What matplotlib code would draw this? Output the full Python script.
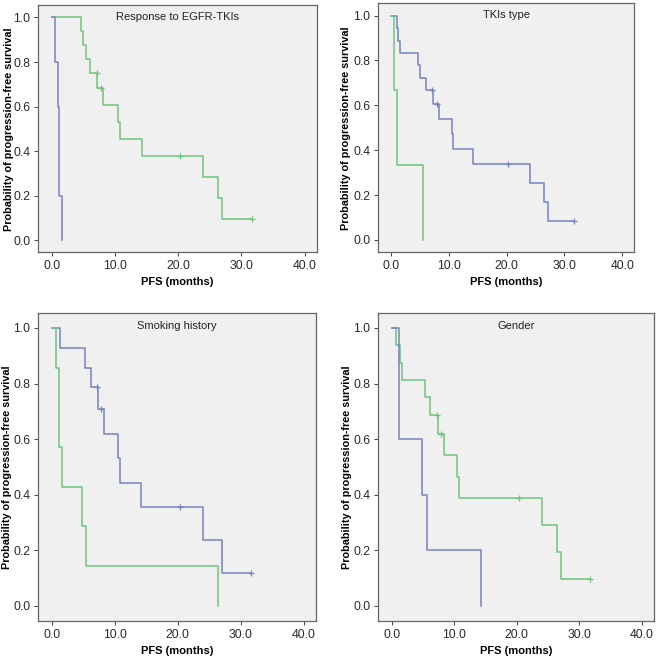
import numpy as np
import matplotlib.pyplot as plt

plt.rcParams['font.family'] = ['Liberation Sans', 'DejaVu Sans']

# Kaplan-Meier curves: drop times and survival after each drop
titles = ['Response to EGFR-TKIs', 'TKIs type', 'Smoking history', 'Gender']

# panel 1 - response to EGFR-TKIs
p1_green_t = [4.65, 4.95, 5.3, 6.05, 7.2, 8.15, 10.5, 10.8, 14.2, 23.9, 26.3, 27.0]
p1_green_s = [0.9375, 0.875, 0.8125, 0.75, 0.682, 0.606, 0.530, 0.455, 0.379, 0.284, 0.189, 0.095]
p1_green_c = [7.05, 7.75, 20.2, 31.6]
p1_green_end = 31.6
p1_blue_t = [0.45, 1.0, 1.05, 1.15, 1.5]
p1_blue_s = [0.8, 0.6, 0.4, 0.2, 0.0]
p1_blue_c = []
p1_blue_end = 1.5

# panel 2 - TKIs type
p2_blue_t = [1.05, 1.3, 1.6, 4.75, 5.1, 6.0, 7.3, 8.4, 10.5, 10.8, 14.2, 24.0, 26.4, 27.1]
p2_blue_s = [0.944, 0.889, 0.833, 0.778, 0.722, 0.667, 0.606, 0.539, 0.471, 0.404, 0.337, 0.253, 0.168, 0.084]
p2_blue_c = [7.1, 7.9, 20.3, 31.7]
p2_blue_end = 31.7
p2_green_t = [0.6, 1.0, 5.55]
p2_green_s = [0.667, 0.333, 0.0]
p2_green_c = []
p2_green_end = 5.55

# panel 3 - smoking history
p3_blue_t = [1.25, 5.2, 6.15, 7.35, 8.3, 10.5, 10.8, 14.2, 24.0, 27.1]
p3_blue_s = [0.929, 0.857, 0.786, 0.707, 0.619, 0.530, 0.442, 0.354, 0.236, 0.118]
p3_blue_c = [7.2, 7.85, 20.3, 31.7]
p3_blue_end = 31.7
p3_green_t = [0.6, 1.1, 1.15, 1.6, 4.75, 5.4, 26.4]
p3_green_s = [0.857, 0.714, 0.571, 0.429, 0.286, 0.143, 0.0]
p3_green_c = []
p3_green_end = 26.4

# panel 4 - gender
p4_green_t = [0.6, 1.25, 1.65, 5.3, 6.2, 7.45, 8.3, 10.5, 10.8, 24.0, 26.4, 27.1]
p4_green_s = [0.9375, 0.875, 0.8125, 0.75, 0.6875, 0.619, 0.541, 0.464, 0.387, 0.29, 0.193, 0.097]
p4_green_c = [7.25, 7.9, 20.3, 31.7]
p4_green_end = 31.7
p4_blue_t = [1.1, 1.2, 4.8, 5.6, 14.3]
p4_blue_s = [0.8, 0.6, 0.4, 0.2, 0.0]
p4_blue_c = []
p4_blue_end = 14.3

green = '#70c47e'
blue = '#7683c2'

panels = [
    [(p1_green_t, p1_green_s, p1_green_c, p1_green_end, green),
     (p1_blue_t, p1_blue_s, p1_blue_c, p1_blue_end, blue)],
    [(p2_blue_t, p2_blue_s, p2_blue_c, p2_blue_end, blue),
     (p2_green_t, p2_green_s, p2_green_c, p2_green_end, green)],
    [(p3_blue_t, p3_blue_s, p3_blue_c, p3_blue_end, blue),
     (p3_green_t, p3_green_s, p3_green_c, p3_green_end, green)],
    [(p4_green_t, p4_green_s, p4_green_c, p4_green_end, green),
     (p4_blue_t, p4_blue_s, p4_blue_c, p4_blue_end, blue)],
]

# axes boxes in figure fractions (left, bottom, width, height)
boxes = [
    [0.058, 0.616, 0.424, 0.376],
    [0.5745, 0.616, 0.389, 0.379],
    [0.058, 0.055, 0.4225, 0.469],
    [0.5745, 0.055, 0.4195, 0.469],
]
ylab_x = [-0.088, -0.107, -0.095, -0.096]


def step_xy(t, s, end):
    xs = [0.0]
    ys = [1.0]
    cur = 1.0
    for ti, si in zip(t, s):
        xs += [ti, ti]
        ys += [cur, si]
        cur = si
    if end > xs[-1]:
        xs.append(end)
        ys.append(cur)
    return xs, ys


def surv_at(t, s, x):
    cur = 1.0
    for ti, si in zip(t, s):
        if ti <= x:
            cur = si
    return cur


fig = plt.figure(figsize=(6.58, 6.57), dpi=100)
for k in range(4):
    ax = fig.add_axes(boxes[k])
    ax.set_facecolor('#f0f0f0')
    for t, s, c, end, col in panels[k]:
        xs, ys = step_xy(t, s, end)
        ax.plot(xs, ys, color=col, lw=1.1)
        if len(c) > 0:
            cy = [surv_at(t, s, x) for x in c]
            ax.plot(c, cy, ls='none', marker='+', ms=4, mew=0.9, color=col)
    ax.set_xlim(-2.2, 42)
    ax.set_ylim(-0.055, 1.055)
    ax.set_xticks([0, 10, 20, 30, 40])
    ax.set_xticklabels(['0.0', '10.0', '20.0', '30.0', '40.0'])
    ax.set_yticks([0, 0.2, 0.4, 0.6, 0.8, 1.0])
    ax.set_yticklabels(['0.0', '0.2', '0.4', '0.6', '0.8', '1.0'])
    ax.tick_params(labelsize=8.8, length=3, width=0.7, pad=2.5, colors='#444444', labelcolor='#2a2a2a')
    for sp in ax.spines.values():
        sp.set_color('#666666')
        sp.set_linewidth(0.9)
    ax.set_xlabel('PFS (months)', fontsize=8, fontweight='bold', labelpad=4)
    ax.set_ylabel('Probability of progression-free survival', fontsize=7.8, fontweight='bold')
    ax.yaxis.set_label_coords(ylab_x[k], 0.5)
    ax.text(0.5, 0.972, titles[k], transform=ax.transAxes, ha='center', va='top', fontsize=8, color='#222222')

fig.savefig('out.png', dpi=100)
